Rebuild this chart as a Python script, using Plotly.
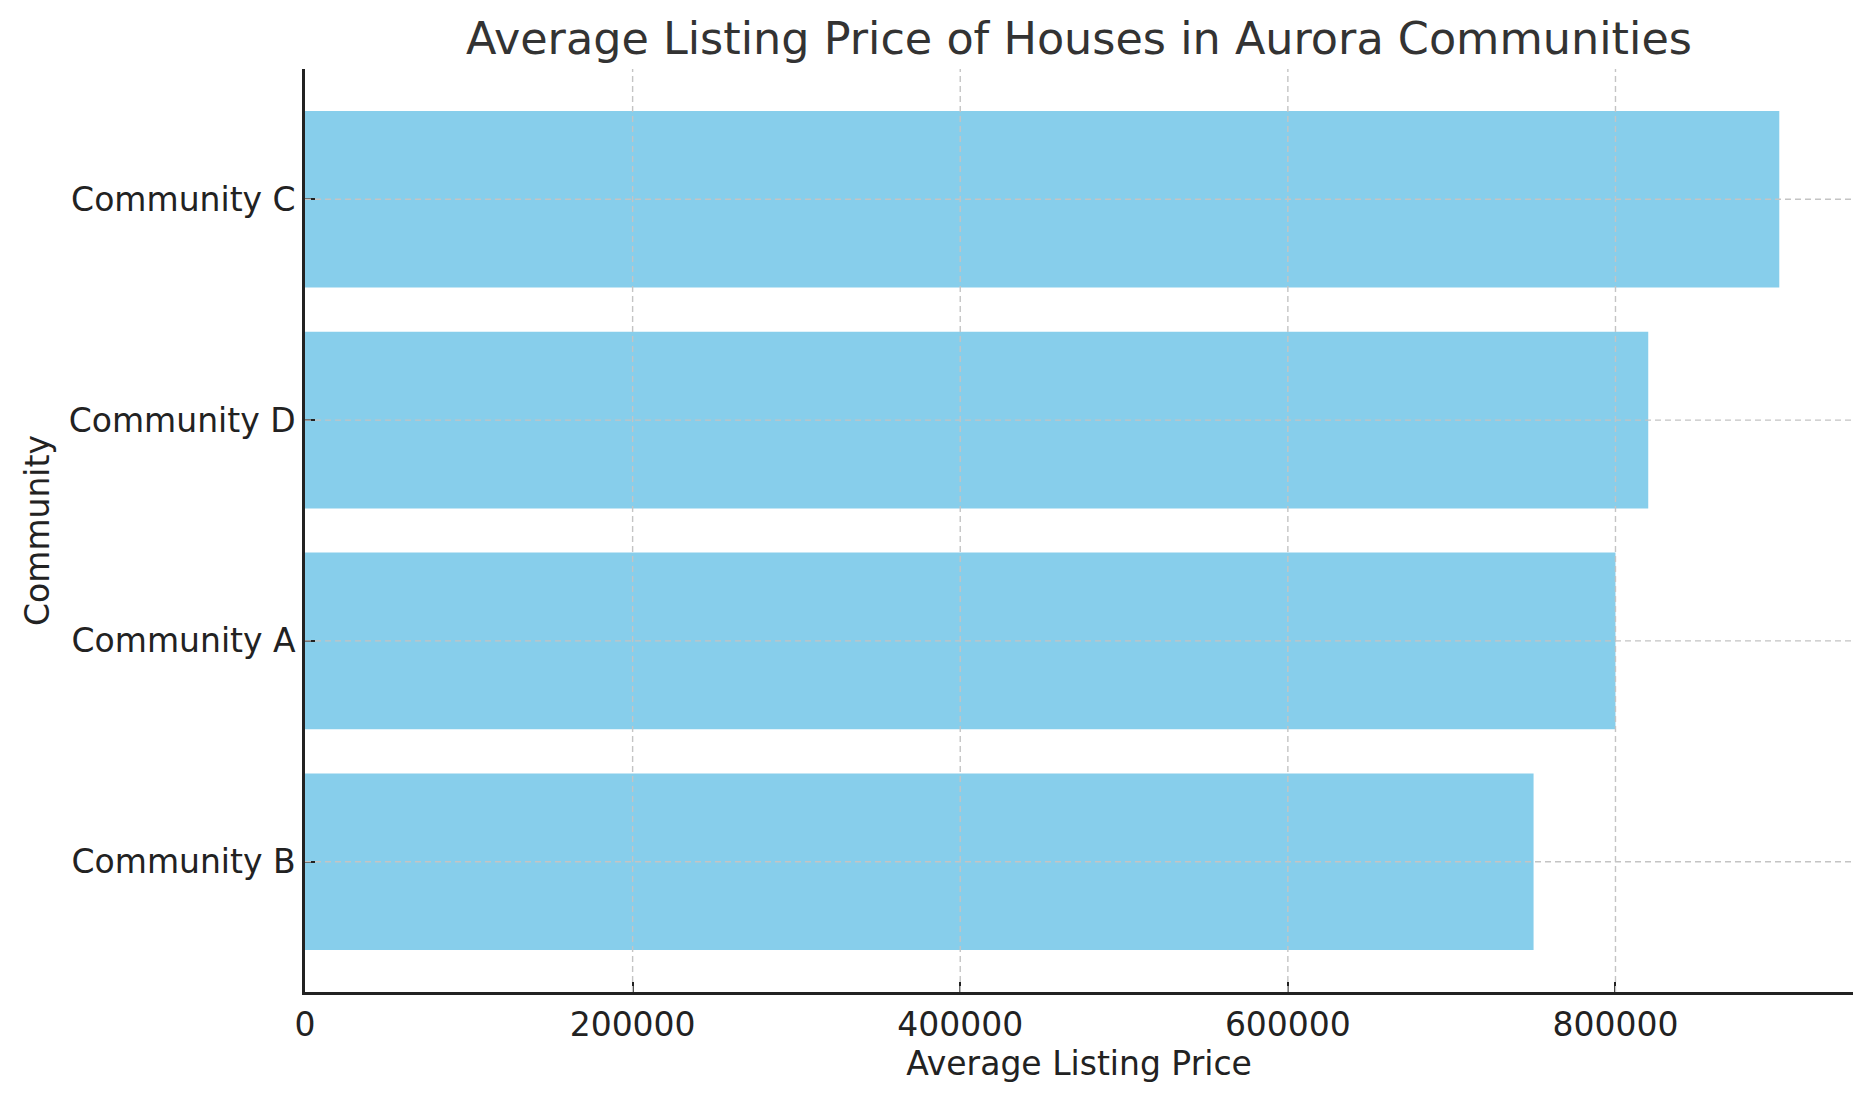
import plotly.graph_objects as go

communities = ["Community B", "Community A", "Community D", "Community C"]
prices = [750000, 800000, 820000, 900000]
x_ticks = [0, 200000, 400000, 600000, 800000]

BAR_COLOR = "#87CEEB"
GRID_COLOR = "#c4c4c4"
FONT = "DejaVu Sans"

# page has an 8px body margin, so the figure is drawn 8px smaller
W, H = 1865, 1093

fig = go.Figure()
fig.add_trace(go.Bar(
    x=prices, y=communities, orientation="h",
    marker=dict(color=BAR_COLOR, line=dict(width=0)),
    width=0.8, hoverinfo="x+y",
))

x_max = max(prices) * 1.05
shapes = []
for v in x_ticks[1:]:
    shapes.append(dict(type="line", xref="x", yref="paper", x0=v, x1=v, y0=0, y1=1,
                       line=dict(color=GRID_COLOR, width=1.4, dash="6px,4px"), layer="above"))
for c in communities:
    shapes.append(dict(type="line", xref="paper", yref="y", x0=0, x1=1, y0=c, y1=c,
                       line=dict(color=GRID_COLOR, width=1.4, dash="6px,4px"), layer="above"))

fig.update_layout(
    width=W, height=H,
    margin=dict(l=297, r=20, t=61, b=109),
    paper_bgcolor="white", plot_bgcolor="white",
    font=dict(family=FONT, size=33, color="#222222"),
    title=dict(text="Average Listing Price of Houses in Aurora Communities",
               font=dict(family=FONT, size=44.5, color="#333333"),
               x=0.5, xref="paper", xanchor="center",
               y=1 - 30 / H, yref="container", yanchor="middle"),
    showlegend=False,
    shapes=shapes,
    bargap=0.2,
)
fig.update_xaxes(
    range=[0, x_max], tickvals=x_ticks, ticktext=[str(v) for v in x_ticks],
    showgrid=False, zeroline=False,
    showline=True, linecolor="#222222", linewidth=2.5,
    ticks="inside", ticklen=10, tickwidth=2, tickcolor="#222222",
    ticklabelstandoff=2,
    title=dict(text="Average Listing Price", standoff=3, font=dict(size=33, color="#222222")),
    layer="above traces",
)
fig.update_yaxes(
    type="category", categoryorder="array", categoryarray=communities,
    range=[-0.59, 3.59],
    showgrid=False, zeroline=False,
    showline=True, linecolor="#222222", linewidth=2.5,
    ticks="inside", ticklen=10, tickwidth=2, tickcolor="#222222",
    ticklabelstandoff=0,
    title=dict(text="Community", standoff=10, font=dict(size=33, color="#222222")),
    layer="above traces",
)

fig.write_html("out.html")
